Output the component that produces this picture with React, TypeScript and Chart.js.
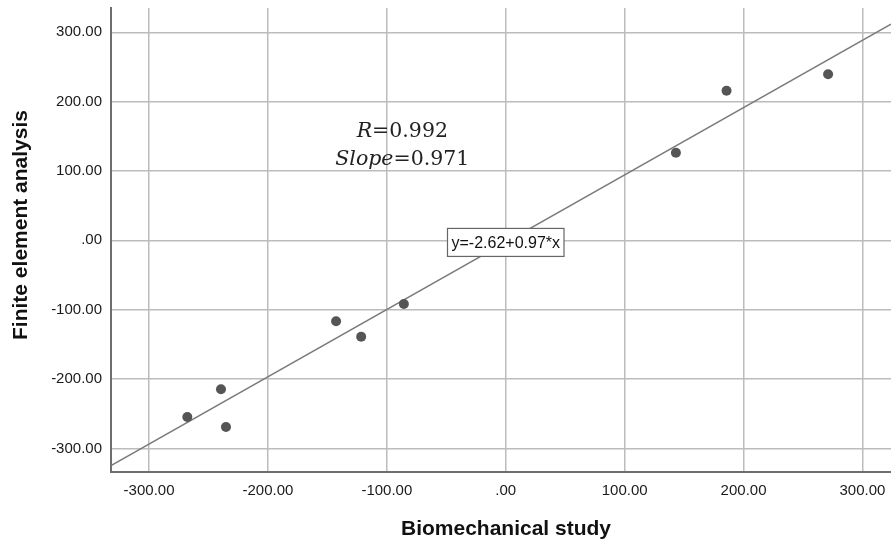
import React, { useEffect, useRef } from "react";
import { Chart, registerables } from "chart.js";

Chart.register(...registerables);

const bioX = [-267.8, -239.5, -235.3, -142.7, -121.6, -85.7, 143.1, 185.7, 271.1];
const feaY = [-254.6, -214.7, -269.0, -116.7, -138.9, -91.8, 126.2, 215.6, 239.6];
const xTicks = [-300, -200, -100, 0, 100, 200, 300];
const yTicks = [-300, -200, -100, 0, 100, 200, 300];
const fitIntercept = -2.62;
const fitSlope = 0.97;
const xRange = [-332, 324];
const yRange = [-334, 335];
const xTitle = "Biomechanical study";
const yTitle = "Finite element analysis";
const eqText = "y=-2.62+0.97*x";
const rText = ["R", "=0.992"];
const slopeText = ["Slope", "=0.971"];

const fmt = (v: number) => (v === 0 ? ".00" : v.toFixed(2));

export default function App() {
  const ref = useRef<HTMLCanvasElement | null>(null);
  useEffect(() => {
    const canvas = ref.current;
    if (!canvas) return;
    const annot = {
      id: "annot",
      afterDatasetsDraw(chart: any) {
        const ctx = chart.ctx;
        const xs = chart.scales.x;
        const ys = chart.scales.y;
        ctx.save();
        // equation box
        ctx.font = "16px 'Liberation Sans', Arial, sans-serif";
        const ew = ctx.measureText(eqText).width;
        const cx = xs.getPixelForValue(0);
        const cy = ys.getPixelForValue(-3);
        const bw = ew + 8;
        const bh = 28;
        ctx.fillStyle = "#ffffff";
        ctx.fillRect(cx - bw / 2, cy - bh / 2, bw, bh);
        ctx.strokeStyle = "#666";
        ctx.lineWidth = 1.2;
        ctx.strokeRect(cx - bw / 2, cy - bh / 2, bw, bh);
        ctx.fillStyle = "#111";
        ctx.textAlign = "left";
        ctx.textBaseline = "middle";
        ctx.fillText(eqText, cx - ew / 2, cy + 1);

        // R and slope
        const drawMixed = (parts: string[], vx: number, vy: number) => {
          const italic = "italic 20.5px 'DejaVu Serif', serif";
          const normal = "20.5px 'DejaVu Serif', serif";
          ctx.font = italic;
          const w1 = ctx.measureText(parts[0]).width;
          ctx.font = normal;
          const w2 = ctx.measureText(parts[1]).width;
          const px = xs.getPixelForValue(vx);
          const py = ys.getPixelForValue(vy);
          const start = px - (w1 + w2) / 2;
          ctx.fillStyle = "#222";
          ctx.textBaseline = "middle";
          ctx.textAlign = "left";
          ctx.font = italic;
          ctx.fillText(parts[0], start, py);
          ctx.font = normal;
          ctx.fillText(parts[1], start + w1, py);
        };
        drawMixed(rText, -87, 156.5);
        drawMixed(slopeText, -87, 115.7);

        // axis titles
        ctx.fillStyle = "#111";
        ctx.font = "bold 21px 'Liberation Sans', Arial, sans-serif";
        ctx.textAlign = "center";
        ctx.textBaseline = "middle";
        ctx.fillText(xTitle, 506, 529);
        ctx.translate(21.5, 225);
        ctx.rotate(-Math.PI / 2);
        ctx.fillText(yTitle, 0, 0);
        ctx.restore();
      },
    };

    const tickFont = { family: "'Liberation Sans', Arial, sans-serif", size: 15 };
    const chart = new Chart(canvas, {
      type: "scatter",
      data: {
        datasets: [
          {
            type: "scatter",
            data: bioX.map((x, i) => ({ x, y: feaY[i] })),
            backgroundColor: "#555555",
            borderColor: "#555555",
            borderWidth: 0,
            pointRadius: 5,
            order: 1,
          },
          {
            type: "line",
            data: xRange.map((x) => ({ x, y: fitIntercept + fitSlope * x })),
            borderColor: "#7a7a7a",
            borderWidth: 1.5,
            pointRadius: 0,
            fill: false,
            order: 2,
          } as any,
        ],
      },
      options: {
        responsive: false,
        devicePixelRatio: 1,
        animation: false,
        layout: { autoPadding: false, padding: { top: 8, left: 0, right: 0, bottom: 0 } },
        plugins: { legend: { display: false }, tooltip: { enabled: false } },
        scales: {
          x: {
            type: "linear",
            position: "bottom",
            min: xRange[0],
            max: xRange[1],
            afterBuildTicks: (s: any) => {
              s.ticks = xTicks.map((v) => ({ value: v }));
            },
            afterFit: (s: any) => {
              s.height = 72;
              s.paddingLeft = 0;
              s.paddingRight = 0;
            },
            grid: { color: "#bcbcbc", lineWidth: 1.5, drawTicks: false },
            border: { color: "#6e6e6e", width: 2 },
            ticks: {
              font: tickFont,
              color: "#1a1a1a",
              padding: 10,
              maxRotation: 0,
              callback: (v: any) => fmt(Number(v)),
            },
          },
          y: {
            type: "linear",
            min: yRange[0],
            max: yRange[1],
            afterBuildTicks: (s: any) => {
              s.ticks = yTicks.map((v) => ({ value: v }));
            },
            afterFit: (s: any) => {
              s.width = 111;
              s.paddingTop = 0;
              s.paddingBottom = 0;
            },
            grid: { color: "#bcbcbc", lineWidth: 1.5, drawTicks: false },
            border: { color: "#6e6e6e", width: 2 },
            ticks: {
              font: tickFont,
              color: "#1a1a1a",
              padding: 9,
              callback: (v: any) => fmt(Number(v)),
            },
          },
        },
      },
      plugins: [annot],
    } as any);
    return () => chart.destroy();
  }, []);

  return (
    <div style={{ position: "fixed", left: 0, top: 0, width: 891, height: 544, background: "#fff" }}>
      <canvas ref={ref} width={891} height={544} style={{ display: "block", width: 891, height: 544 }} />
    </div>
  );
}
